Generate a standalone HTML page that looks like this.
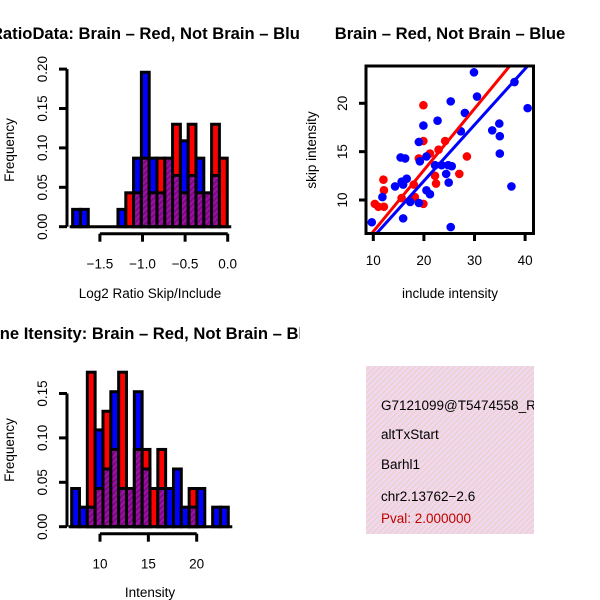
<!DOCTYPE html>
<html><head><meta charset="utf-8"><style>
html,body{margin:0;padding:0;background:#fff;}
svg{display:block;font-family:"Liberation Sans",Arial,sans-serif;}
</style></head><body>
<svg id="chart" width="600" height="600" viewBox="0 0 600 600" xmlns="http://www.w3.org/2000/svg">
<defs>
<pattern id="hatch" width="4" height="4" patternUnits="userSpaceOnUse" patternTransform="rotate(45)">
<rect width="4" height="4" fill="#a010a8"/><rect width="2" height="4" fill="#7a0a80"/></pattern>
<pattern id="pinkhatch" width="4" height="4" patternUnits="userSpaceOnUse" patternTransform="rotate(45)">
<rect width="4" height="4" fill="#f8d4f0"/><rect width="1.3" height="4" fill="#dcd8c8"/></pattern>
<clipPath id="clipL"><rect x="0" y="0" width="300" height="600"/></clipPath>
<clipPath id="clipBox"><rect x="366" y="366" width="168" height="168"/></clipPath>
<clipPath id="clipSc"><rect x="366" y="66" width="168" height="168"/></clipPath>
</defs>
<g id="g1" clip-path="url(#clipL)"></g>
<g id="g2"></g>
<g id="g3" clip-path="url(#clipL)"></g>
<g id="g4"></g>
</svg>
<script>
// ---- Top histogram (ratio) data ----
const ratioEdges = [-1.82,-1.728,-1.288,-1.196,-1.105,-1.013,-0.922,-0.830,-0.738,-0.647,-0.555,-0.464,-0.372,-0.280,-0.189,-0.097];
const ratioBlue = [0.022,0.022,0.022,0,0.087,0.196,0.087,0.043,0.087,0.065,0.109,0.065,0.087,0.043,0.065,0];
const ratioRed  = [0,0,0,0.043,0.043,0.087,0.043,0.087,0.087,0.13,0.043,0.13,0.043,0.043,0.13,0.087];
const ratioYTicks = [0,0.05,0.10,0.15,0.20];
const ratioYLabels = ["0.00","0.05","0.10","0.15","0.20"];
const ratioXTicks = [-1.5,-1.0,-0.5,0.0];
const ratioXLabels = ["\u22121.5","\u22121.0","\u22120.5","0.0"];
// ---- Bottom histogram (intensity) data ----
const intEdges = [7.07,7.88,8.69,9.50,10.31,11.12,11.93,12.74,13.55,14.36,15.17,15.98,16.79,17.60,18.41,19.22,20.03,20.84,21.65,22.46];
const intBlue = [0.043,0.022,0.022,0.109,0.065,0.152,0.043,0.043,0.152,0.065,0,0.043,0.043,0.065,0.022,0.022,0.043,0,0.022,0.022];
const intRed  = [0,0,0.174,0.043,0.13,0.087,0.174,0.043,0.087,0.087,0.043,0.087,0,0,0,0.043,0,0,0,0];
const intYTicks = [0,0.05,0.10,0.15];
const intYLabels = ["0.00","0.05","0.10","0.15"];
const intXTicks = [10,15,20];
const intXLabels = ["10","15","20"];
// ---- Scatter data ----
const blueX = [29.9,37.9,40.5,30.5,25.3,28.1,22.7,19.9,19.0,27.3,33.5,34.9,35.0,35.0,37.3,25.3,9.7,11.8,15.9,15.4,16.3,14.3,15.6,16.6,17.3,19.0,20.5,21.2,19.2,20.5,22.2,23.5,24.8,25.5,24.4,24.9,15.9];
const blueY = [23.2,22.2,19.5,20.7,20.2,19.0,18.2,17.7,16.0,17.1,17.2,17.9,16.6,14.8,11.4,7.2,7.7,10.3,8.1,14.4,14.3,11.4,11.9,12.2,9.8,9.7,11.0,10.6,14.0,14.5,13.6,13.6,13.6,13.5,12.7,11.8,11.6];
const redX = [19.9,19.9,24.2,22.9,28.5,19.0,21.2,12.0,12.1,10.3,11.0,12.1,15.6,18.0,19.9,22.4,22.2,27.0,18.2];
const redY = [19.8,16.1,16.1,15.2,14.5,14.3,14.8,12.1,11.0,9.6,9.3,9.3,10.2,11.6,9.6,11.7,12.5,12.7,10.3];
const fitIntercept = [0.39, 0.37]; // red, blue
const fitSlope = [0.635, 0.58];
const scXTicks = [10,20,30,40];
const scYTicks = [10,15,20];

const NS = "http://www.w3.org/2000/svg";
const TICK_FS = 13.5, LAB_FS = 13.5, TITLE_FS = 16.6;
function mk(parent, tag, attrs, text){
  const e = document.createElementNS(NS, tag);
  for (const k in attrs) e.setAttribute(k, attrs[k]);
  if (text !== undefined) e.textContent = text;
  parent.appendChild(e); return e;
}

function histogram(g, edges, blue, red, xs, ys, colW, yT, yL, xT, xL, prefix){
  const baseY = ys(0);
  edges.forEach((ed, i) => {
    const x0 = xs(ed), w = colW;
    const b = blue[i], r = red[i];
    const hi = Math.max(b, r), lo = Math.min(b, r);
    if (hi > 0 && hi !== lo) {
      const c = mk(g, 'rect', {x:x0, y:ys(hi), width:w, height:baseY-ys(hi), fill: b > r ? '#0000ff' : '#ff0000', stroke:'#000', 'stroke-width':3});
      
      
    }
    if (lo > 0) {
      const p = mk(g, 'rect', {x:x0, y:ys(lo), width:w, height:baseY-ys(lo), fill:'url(#hatch)', stroke:'#000', 'stroke-width':3});
      
      
    }
  });
  const bl = mk(g, 'line', {x1:xs(edges[0])-3, x2:xs(edges[edges.length-1])+colW+4, y1:baseY, y2:baseY, stroke:'#000','stroke-width':3});
  
  
  const ax = 67;
  const ya = mk(g, 'line', {x1:ax, x2:ax, y1:ys(yT[0]), y2:ys(yT[yT.length-1]), stroke:'#000','stroke-width':3});
  
  
  yT.forEach((t, i) => {
    mk(g, 'line', {x1:ax-8, x2:ax, y1:ys(t), y2:ys(t), stroke:'#000','stroke-width':3});
    const tl = mk(g, 'text', {x:0, y:0, transform:`translate(47,${ys(t)}) rotate(-90)`, 'text-anchor':'middle', 'font-size':TICK_FS}, yL[i]);
    
    
  });
  const axY = baseY + 7;
  const xa = mk(g, 'line', {x1:xs(xT[0]), x2:xs(xT[xT.length-1]), y1:axY, y2:axY, stroke:'#000','stroke-width':3});
  
  
  xT.forEach((t, i) => {
    mk(g, 'line', {x1:xs(t), x2:xs(t), y1:axY, y2:axY+8, stroke:'#000','stroke-width':3});
    const tl = mk(g, 'text', {x:xs(t), y:axY+35, 'text-anchor':'middle', 'font-size':TICK_FS}, xL[i]);
    
    
  });
}

// Top-left histogram
const g1 = document.getElementById('g1');
const xs1 = v => 227.7 + v * 85.2;
const ys1 = v => 226.7 - v * 788;
histogram(g1, ratioEdges, ratioBlue, ratioRed, xs1, ys1, 7.8, ratioYTicks, ratioYLabels, ratioXTicks, ratioXLabels, 'ratio');
let t = mk(g1, 'text', {x:150, y:39, 'text-anchor':'middle', 'font-size':TITLE_FS, 'font-weight':'bold'}, 'RatioData: Brain \u2013 Red, Not Brain \u2013 Blue');
 
t = mk(g1, 'text', {x:150, y:298, 'text-anchor':'middle', 'font-size':LAB_FS}, 'Log2 Ratio Skip/Include');
 
t = mk(g1, 'text', {x:0, y:0, transform:'translate(14,150) rotate(-90)', 'text-anchor':'middle', 'font-size':LAB_FS}, 'Frequency');
 

// Bottom-left histogram
const g3 = document.getElementById('g3');
const xs3 = v => 100 + (v - 10) * 9.67;
const ys3 = v => 526.7 - v * 888;
histogram(g3, intEdges, intBlue, intRed, xs3, ys3, 7.8, intYTicks, intYLabels, intXTicks, intXLabels, 'intensity');
t = mk(g3, 'text', {x:150, y:339, 'text-anchor':'middle', 'font-size':TITLE_FS, 'font-weight':'bold'}, 'Gene Itensity: Brain \u2013 Red, Not Brain \u2013 Blue');
 
t = mk(g3, 'text', {x:150, y:597, 'text-anchor':'middle', 'font-size':LAB_FS}, 'Intensity');
 
t = mk(g3, 'text', {x:0, y:0, transform:'translate(14,450) rotate(-90)', 'text-anchor':'middle', 'font-size':LAB_FS}, 'Frequency');
 

// Scatter
const g2 = document.getElementById('g2');
const sx = v => 373.3 + (v - 10) * 5.06;
const sy = v => 200 - (v - 10) * 9.67;
const plot = mk(g2, 'g', {'clip-path':'url(#clipSc)'});


redX.forEach((x, i) => {
  const c = mk(plot, 'circle', {cx:sx(x), cy:sy(redY[i]), r:4.3, fill:'#ff0000'});
  
  
});
blueX.forEach((x, i) => {
  const c = mk(plot, 'circle', {cx:sx(x), cy:sy(blueY[i]), r:4.3, fill:'#0000ff'});
  
  
});
['#ff0000','#0000ff'].forEach((col, k) => {
  const x1 = 5, x2 = 45;
  const l = mk(plot, 'line', {x1:sx(x1), y1:sy(fitIntercept[k] + fitSlope[k]*x1), x2:sx(x2), y2:sy(fitIntercept[k] + fitSlope[k]*x2), stroke:col, 'stroke-width':3});
  
  
});
const box = mk(g2, 'rect', {x:366, y:66, width:167.5, height:167.5, fill:'none', stroke:'#000', 'stroke-width':3});
 
scXTicks.forEach(v => {
  mk(g2, 'line', {x1:sx(v), x2:sx(v), y1:234, y2:241, stroke:'#000','stroke-width':3});
  const tl = mk(g2, 'text', {x:sx(v), y:265, 'text-anchor':'middle', 'font-size':TICK_FS}, String(v));
   
});
scYTicks.forEach(v => {
  mk(g2, 'line', {x1:359, x2:366, y1:sy(v), y2:sy(v), stroke:'#000','stroke-width':3});
  const tl = mk(g2, 'text', {x:0, y:0, transform:`translate(347,${sy(v)}) rotate(-90)`, 'text-anchor':'middle', 'font-size':TICK_FS}, String(v));
   
});
t = mk(g2, 'text', {x:450, y:39, 'text-anchor':'middle', 'font-size':TITLE_FS, 'font-weight':'bold'}, 'Brain \u2013 Red, Not Brain \u2013 Blue');
 
t = mk(g2, 'text', {x:450, y:298, 'text-anchor':'middle', 'font-size':LAB_FS}, 'include intensity');
 
t = mk(g2, 'text', {x:0, y:0, transform:'translate(316,150) rotate(-90)', 'text-anchor':'middle', 'font-size':LAB_FS}, 'skip intensity');
 

// Info box
const g4 = document.getElementById('g4');
const ib = mk(g4, 'rect', {x:366, y:366, width:168, height:168, fill:'url(#pinkhatch)'});
 
const tg = mk(g4, 'g', {'clip-path':'url(#clipBox)', 'font-size':13.5});
const infoLines = ['G7121099@T5474558_R','altTxStart','Barhl1','chr2.13762\u22122.6'];
const infoNames = ['info-gene-id','info-event-type','info-gene-name','info-location'];
const infoY = [410, 439, 469, 501];
infoLines.forEach((s, i) => {
  const e = mk(tg, 'text', {x:381, y:infoY[i], fill:'#000'}, s);
   
});
t = mk(tg, 'text', {x:381, y:523, fill:'#c00000'}, 'Pval: 2.000000');
 
</script>
</body></html>
